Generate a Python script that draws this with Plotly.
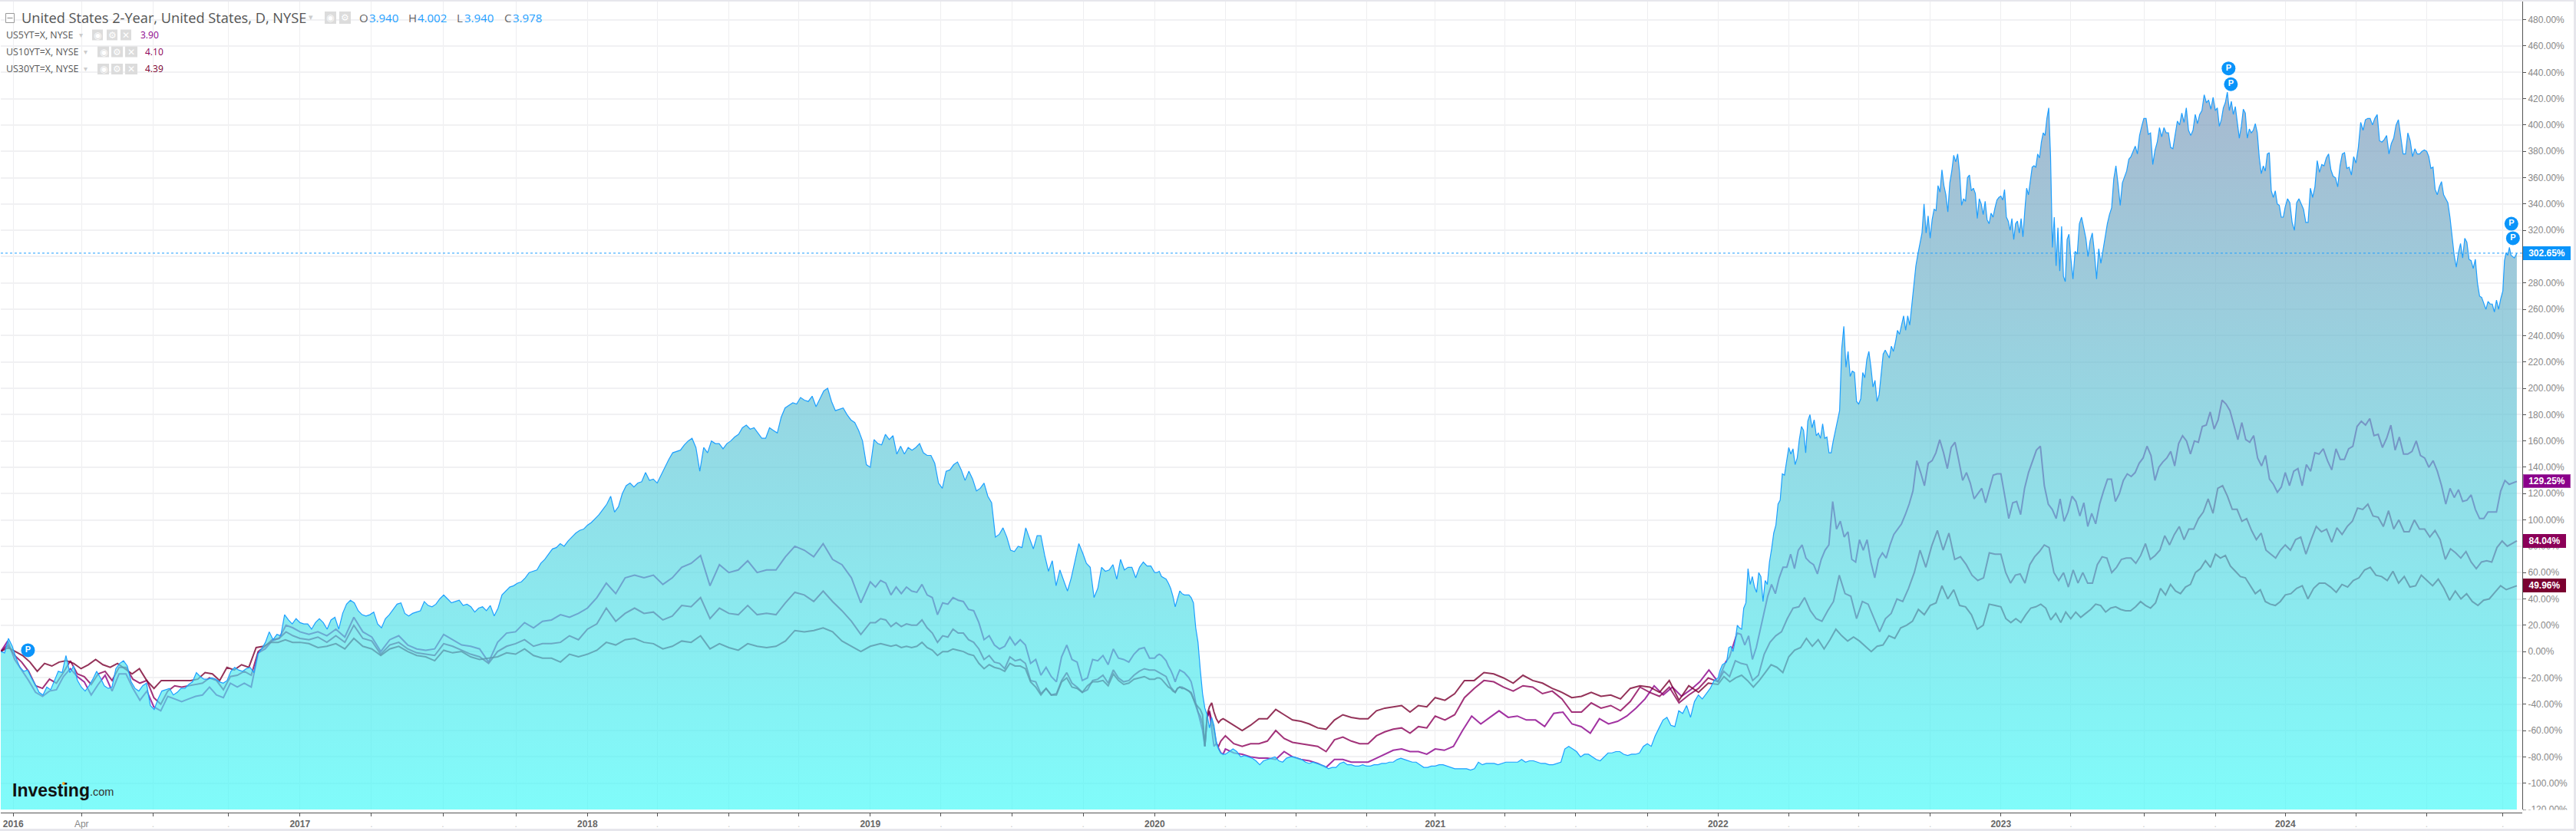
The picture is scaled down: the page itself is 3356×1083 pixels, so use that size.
import pandas as pd
import plotly.graph_objects as go

# Quarter marks of the chart's time axis (first displayed bar of each quarter)
tick_dates = ["2016-01-01","2016-03-29","2016-06-29","2016-10-04","2017-01-04","2017-04-06","2017-07-07","2017-10-09",
              "2018-01-09","2018-04-09","2018-07-10","2018-10-08","2019-01-08","2019-04-09","2019-07-09","2019-10-09",
              "2020-01-09","2020-04-09","2020-07-09","2020-10-08","2021-01-04","2021-04-04","2021-07-04","2021-10-04",
              "2022-01-03","2022-04-04","2022-07-03","2022-10-03","2023-01-02","2023-04-02","2023-07-05","2023-10-05",
              "2024-01-03","2024-04-03","2024-07-03","2024-10-09"]
tick_labels = ["2016","Apr","","","2017","","","","2018","","","","2019","","","","2020","","","","2021","","","",
               "2022","","","","2023","","","","2024","","",""]
y_ticks = [-120,-100,-80,-60,-40,-20,0,20,40,60,80,100,120,140,160,180,200,220,240,260,280,300,320,340,360,380,400,420,440,460,480]
first_date = "2015-12-16"
axis_end = "2024-11-03"
last_date = "2024-10-27"

# US 2-year, % change
y2_2016 = [0,-1,10,4,-5,-12,-15,-14,-20,-25,-31,-33,-27,-29,-22,-15,-16,-3,-16,-11,-22,-27,-30,-26,-21,-15,-20,-26,-28,-27,-13,-9,-7,-11,-23,-28,-30,-26,-24,-41,-44,-36,-30,-29,-28,-33,-31,-28,-28,-25,-23,-16,-19,-21,-21,-20,-21,-23,-24,-22,-15,-12,-14,-15,-13,-12,-16,-2,2,7,15,9,13,12,28,24,21,25]
y2_2017 = [22,21,21,17,22,25,22,17,24,26,17,29,36,39,37,31,28,27,28,30,21,18,25,28,32,36,37,29,27,29,30,31,38,35,34,36,40,43,40,37,38,39,35,36,34,30,33,34,31,35,27,33,43,46,49,50,52,53,56,60,61,62,67,70,74,78,79,82,80,84,87,90,92,93]
y2_2018 = [96,98,101,104,108,112,118,106,110,120,126,128,125,128,129,136,130,131,128,134,140,146,151,152,153,157,160,162,155,137,155,151,160,158,158,154,158,160,163,165,170,172,169,170,166,162,162,170,168,166,178,185,187,189,188,193,191,190,194,186,192,198,200,190,183,184,185,180,176,174,168,160,142]
y2_2019 = [140,161,158,157,165,161,164,150,156,150,155,153,155,158,151,149,149,143,128,124,137,138,142,144,138,130,137,131,122,124,128,118,113,87,89,94,87,77,76,80,79,94,86,78,88,88,73,61,69,50,62,54,46,56,70,82,75,67,64,41,48,64,61,62,66,55,70,62,64,64,56,64,68,65,65]
y2_2020a = [60,60,61,57,56,55,52,48,42,34,40,46,44,43,43,43,41,37,18,7,-14,-32,-43,-48,-58,-50,-56,-68,-74,-77,-78]
y2_2020b = [-78,-76,-74,-76,-80,-79,-80,-81,-83,-86,-83,-82,-81,-80,-83,-84,-81,-80,-80,-81,-82,-84,-85,-84,-85,-86,-87,-89,-88,-88,-85,-84,-86,-86,-87,-87,-86,-87,-87,-86,-86,-85,-85,-84,-84,-82,-81,-82,-83,-84,-84,-86,-88,-88,-87]
y2_2021 = [-87,-86,-86,-87,-88,-89,-89,-89,-89,-90,-89,-84,-86,-85,-85,-85,-86,-85,-84,-84,-84,-84,-82,-84,-83,-83,-84,-85,-85,-86,-86,-85,-84,-74,-72,-74,-76,-80,-78,-78,-80,-82,-83,-80,-77,-77,-76,-76,-78,-79,-78,-78,-77,-72,-70,-72,-64,-58,-52,-50,-56,-57,-45,-47,-41,-50,-38,-33,-36,-32,-28,-22]
y2_2022q1 = [-20,-14,-10,-9,-8,3,4,0,8,20,18,17,33,37,63,51,57,49,45,60,57,38,54,51,68,78,90,96,112,115,135,134,145]
y2_2022q2 = [155,150,154,142,147,161,171,168,151,175,180,170,176,164,166,162,173,162,163,151,151,160,168,176,183,230,247,216,228,209,213,212,190]
y2_2022q3 = [188,192,212,208,222,228,216,201,206,190,195,212,226,229,226,223,232,228,235,244,241,249,255,244,255,248,263,277,293,302,311,318,340,318,331]
y2_2022q4 = [314,328,336,335,354,349,366,354,347,334,356,365,377,372,378,364,339,344,342,360,362,350,352,348,329,344,340,332,342,328,325,333,330,337,343,345]
y2_2023q1 = [346,343,351,330,327,320,329,313,325,327,318,329,315,335,352,347,357,368,369,368,378,375,387,394,392,405,413,376,307,330,293,322,289,323,285,281,313,317]
y2_2023q2 = [299,283,304,302,325,330,322,314,300,312,318,303,283,306,295,305,315,325,332,337,359,369,355,339,356,361,365,374,376,380,384,378,392,399]
y2_2023q3 = [405,405,393,394,370,381,387,398,391,398,394,394,383,382,394,403,400,409,402,413,396,392,396,408,401,408,411,423,417,419,412,421]
y2_2023q4 = [411,413,399,404,413,417,425,411,418,408,414,401,390,399,412,409,390,397,394,396,401,394,375,363,369,365,378,379,350,345,350,340,339,330,330]
y2_2024q1 = [338,344,341,326,320,341,344,340,336,326,326,352,345,353,373,364,370,369,375,378,366,361,360,353,369,378,379,367,368,362,376]
y2_2024q2 = [371,383,402,396,404,405,405,400,405,408,388,387,389,392,378,386,390,400,404,392,378,378,394,388,376,382,378,378,380,381]
y2_2024q3 = [380,376,367,368,351,347,353,357,347,344,341,330,316,301,292,303,310,299,314,311,298,297,291,298,280,270,269,264,260,266,264,264,258,267,260,268]
y2_2024q4 = [274,297,303,301,307,301,300,299,302.65]

# US 5-year, % change
y5_2016 = [0,8,-6,-14,-22,-31,-34,-30,-29,-19,-13,-19,-23,-33,-25,-18,-30,-17,-17,-28,-37,-30,-42,-45,-34,-36,-38,-36,-34,-33,-27,-33,-35,-24,-27,-24,-27,-1,2,8,10,20,18]
y5_2017 = [15,13,15,12,17,11,26,15,11,0,9,12,5,2,1,2,13,9,5,4,2,-8,7,14,15,22,18,23,24,28,26,29]
y5_2018 = [33,41,52,44,56,58,56,58,51,56,64,67,73,50,66,60,62,69,60,62,62,72,80,77,72,82,70,66,56,37]
y5_2019 = [53,49,54,52,43,49,44,49,46,45,51,43,41,28,37,36,41,39,38,32,31,22,9,12,5,2,4,11,5,9,5,-9,-6,-18,-12,-19,-23,-4,5,-6,-8,-22,-20,-6,-7,-3,-10,2,-5,-6,-8,-2,2,3,-5]
y5_2020a = [-5,-3,-2,-3,-5,-7,-11,-14,-18,-23,-18,-14,-15,-16,-18,-20,-23,-30,-39,-46,-53,-60,-72,-50,-46,-60,-72,-70,-74,-77,-78]
y5_2020b = [-74,-77,-78,-80,-81,-81,-82,-76,-80,-82,-83,-85,-88,-82,-82,-84,-84,-84,-81,-78,-75,-74,-76,-76,-78]
y5_2021 = [-74,-75,-72,-60,-49,-55,-50,-45,-50,-49,-52,-52,-57,-47,-46,-55,-57,-62,-51,-55,-53,-49,-43,-36,-26,-33,-27,-34,-29,-23,-14]
y5_2022 = [-23,-15,-8,-4,5,14,13,5,12,-6,3,17,29,42,51,44,56,64,64,74,63,77,81,71,68,66,59,70,77,81,114,93,99,87,91,70,68,85,77,85,68,56,70,75,71,81,89,93,97,104,112,122,145,136,126,143,145,151,161,151,139,155,159,145,130,136,128,116,120,124,113,124,134,135]
y5_2023 = [135,118,101,113,114,104,124,136,144,153,156,126,112,108,101,116,99,106,118,114,103,113,95,105,97,112,122,131,131,114,120,130,135,133,136,143,147,156,149,130,140,144,147,152,141,158,164,160,150,160,159,171,172,182,169,176,191,188,183,172,161,174,161,159,164,147,141,149,131,127,121,125]
y5_2024 = [136,126,137,139,126,142,137,151,150,154,145,138,154,146,146,154,156,171,175,172,177,164,165,155,162,172,153,163,150,150,152,160,149,147,140,145,137,126,112,124,117,123,114,115,119,108,101,101,106,106,106,122,130,127,129.25]

# US 10-year, % change
y10_2016 = [0,5,-3,-8,-15,-26,-28,-21,-24,-16,-7,-17,-19,-25,-17,-15,-22,-12,-12,-21,-24,-22,-35,-40,-30,-26,-27,-26,-25,-24,-20,-22,-29,-19,-18,-15,-18,0,4,9,10,15,12]
y10_2017 = [10,9,11,7,12,7,20,10,8,-2,5,7,2,-1,-2,-3,6,4,1,-2,-4,-9,0,4,6,9,4,6,6,7,12,9]
y10_2018 = [17,21,33,23,29,33,29,30,24,27,35,34,41,25,33,29,28,35,28,29,28,37,45,43,38,46,38,31,23,13]
y10_2019 = [22,22,25,24,19,22,19,21,20,20,24,18,14,7,12,11,17,14,14,9,7,2,-6,-3,-8,-9,-13,-4,-7,-6,-9,-22,-23,-32,-28,-33,-32,-22,-16,-24,-27,-31,-29,-22,-21,-18,-24,-14,-20,-23,-22,-18,-15,-13,-14]
y10_2020a = [-14,-15,-16,-17,-18,-19,-23,-27,-29,-31,-28,-27,-27,-28,-29,-30,-31,-36,-41,-46,-49,-55,-72,-50,-45,-52,-60,-70,-72,-68,-66]
y10_2020b = [-64,-70,-72,-70,-70,-68,-60,-66,-69,-70,-71,-72,-76,-67,-65,-68,-70,-70,-64,-61,-59,-58,-62,-57,-58]
y10_2021 = [-49,-52,-48,-35,-28,-22,-23,-27,-30,-26,-27,-32,-30,-36,-46,-46,-39,-43,-41,-45,-38,-27,-31,-34,-27,-39,-33,-28,-20]
y10_2022 = [-23,-15,-19,-7,-9,-10,-22,-18,-2,7,12,15,25,33,34,41,31,25,23,31,38,58,44,42,25,38,36,25,15,25,29,40,38,48,60,77,64,80,92,77,90,70,72,66,58,54,56,75,74]
y10_2023 = [74,60,52,58,59,52,66,72,76,81,79,60,54,60,49,62,52,60,52,52,66,72,71,60,64,70,71,71,67,73,82,70,73,77,88,81,89,95,85,93,93,101,106,116,105,124,126,118,108,108,99,101,92,85,90,77,74,71,77]
y10_2024 = [81,77,85,87,74,85,95,91,93,83,94,89,95,99,109,108,112,103,102,95,107,93,100,91,91,100,93,93,87,92,85,70,78,75,71,76,68,63,68,69,68,79,84,80,84.04]

# US 30-year, % change
y30_2016 = [0,3,0,-3,-8,-15,-9,-11,-8,-7,-9,-13,-10,-6,-10,-12,-9,-13,-17,-13,-22,-28,-22,-22,-22,-22,-22,-21,-16,-17,-22,-12,-14,-10,-12,3,4,7,7,9,7]
y30_2017 = [7,6,3,4,6,2,10,4,2,-3,2,4,0,-3,-4,-7,1,-1,0,-4,-6,-5,-4,-1,-2,2,-3,-5,-5,-8,-2,-4]
y30_2018 = [-2,1,7,5,9,10,7,6,2,4,8,7,12,2,6,3,1,6,4,3,4,8,16,15,16,18,15,8,4,0]
y30_2019 = [4,5,6,5,4,5,3,4,3,4,7,3,1,-3,0,0,2,1,0,-2,-3,-9,-13,-10,-12,-13,-15,-9,-11,-11,-13,-23,-27,-33,-28,-33,-33,-23,-20,-27,-28,-31,-26,-23,-23,-22,-26,-17,-22,-25,-24,-21,-20,-19,-21]
y30_2020a = [-21,-20,-20,-21,-23,-25,-27,-28,-30,-31,-28,-27,-28,-28,-29,-30,-32,-36,-40,-42,-44,-48,-72,-48,-42,-39,-46,-51,-54,-52,-51]
y30_2020b = [-52,-56,-60,-56,-51,-51,-44,-48,-52,-53,-55,-58,-59,-52,-48,-50,-51,-51,-45,-43,-42,-41,-46,-41,-42]
y30_2021 = [-35,-37,-32,-22,-22,-16,-17,-20,-24,-18,-22,-24,-28,-31,-35,-34,-31,-34,-33,-36,-28,-26,-27,-31,-22,-37,-26,-31,-24]
y30_2022 = [-25,-19,-23,-20,-18,-22,-27,-22,-16,-10,-12,-16,-4,1,3,10,4,9,2,9,17,12,8,11,8,4,0,4,5,12,10,18,20,23,32,28,35,37,50,40,47,35,34,28,17,20,36,35]
y30_2023 = [34,25,22,25,22,28,33,34,36,33,24,29,22,30,25,30,26,29,32,36,35,30,33,34,32,31,31,34,38,35,33,37,48,43,51,46,44,49,51,60,63,69,64,74,71,73,65,61,57,56,50,44,47,38,36,35,38]
y30_2024 = [43,44,48,50,40,48,52,52,49,45,51,49,54,56,62,64,58,57,54,61,52,57,49,50,58,54,50,55,48,39,46,40,44,38,35,39,40,45,50,47,49.96]

# "P" event flags
flag_dates = ["2016-01-20","2023-10-22","2023-10-25","2024-10-20","2024-10-22"]
flag_values = [1,443,431,325,314]

title_text = "United States 2-Year, United States, D, NYSE"
ohlc_open, ohlc_high, ohlc_low, ohlc_close = "3.940", "4.002", "3.940", "3.978"
rows = [("US5YT=X, NYSE", "3.90"), ("US10YT=X, NYSE", "4.10"), ("US30YT=X, NYSE", "4.39")]

W, H = 3356, 1083
L, R, T, B = 1, 70, 2, 24
PW, PH = W - L - R, H - T - B
def px(x): return (x - L) / PW
def py(y): return 1 - (y - T) / PH

def seg(start, end, vals):
    return list(pd.date_range(start, end, periods=len(vals) + 1)[:-1])

def build(parts):
    xs, ys = [], []
    for s, e, v in parts:
        xs += seg(s, e, v); ys += v
    xs[-1] = pd.Timestamp(last_date)
    return xs, ys

td = tick_dates
x2, y2 = build([(first_date, td[4], y2_2016), (td[4], td[8], y2_2017), (td[8], td[12], y2_2018), (td[12], td[16], y2_2019),
                (td[16], td[17], y2_2020a), (td[17], td[20], y2_2020b), (td[20], td[24], y2_2021),
                (td[24], td[25], y2_2022q1), (td[25], td[26], y2_2022q2), (td[26], td[27], y2_2022q3), (td[27], td[28], y2_2022q4),
                (td[28], td[29], y2_2023q1), (td[29], td[30], y2_2023q2), (td[30], td[31], y2_2023q3), (td[31], td[32], y2_2023q4),
                (td[32], td[33], y2_2024q1), (td[33], td[34], y2_2024q2), (td[34], td[35], y2_2024q3), (td[35], "2024-10-28", y2_2024q4)])
def others(a):
    return build([(first_date, td[4], a[0]), (td[4], td[8], a[1]), (td[8], td[12], a[2]), (td[12], td[16], a[3]),
                  (td[16], td[17], a[4]), (td[17], td[20], a[5]), (td[20], td[24], a[6]), (td[24], td[28], a[7]),
                  (td[28], td[32], a[8]), (td[32], "2024-10-28", a[9])])
x5, y5 = others([y5_2016, y5_2017, y5_2018, y5_2019, y5_2020a, y5_2020b, y5_2021, y5_2022, y5_2023, y5_2024])
x10, y10 = others([y10_2016, y10_2017, y10_2018, y10_2019, y10_2020a, y10_2020b, y10_2021, y10_2022, y10_2023, y10_2024])
x30, y30 = others([y30_2016, y30_2017, y30_2018, y30_2019, y30_2020a, y30_2020b, y30_2021, y30_2022, y30_2023, y30_2024])

C_BLUE, C5, C10, C30 = "#1e9fff", "#8b008b", "#8b0058", "#7a0030"

fig = go.Figure()
for xs, ys, c in [(x5, y5, C5), (x10, y10, C10), (x30, y30, C30)]:
    fig.add_trace(go.Scatter(x=xs, y=ys, mode="lines", line=dict(color=c, width=2), opacity=0.8, hoverinfo="skip"))
fig.add_trace(go.Scatter(x=x2, y=[y_ticks[0]] * len(x2), mode="lines", line=dict(width=0), hoverinfo="skip"))
fig.add_trace(go.Scatter(x=x2, y=y2, mode="lines", line=dict(color=C_BLUE, width=1.2), fill="tonexty",
                         fillgradient=dict(type="vertical", start=-120, stop=420,
                                           colorscale=[[0, "rgba(65,250,248,0.67)"], [1, "rgba(124,152,185,0.67)"]])))
fig.add_trace(go.Scatter(x=flag_dates, y=flag_values, mode="markers+text", text=["<b>P</b>"] * len(flag_dates),
                         textposition="middle center", textfont=dict(color="white", size=11, family="Liberation Sans"),
                         marker=dict(size=18, color="#0a94fa"), hoverinfo="skip"))

def ticktext(lbl):
    if lbl == "": return '<span style="color:#ccc">.</span>'
    if lbl == "Apr": return '<span style="color:#888">Apr</span>'
    return f"<b>{lbl}</b>"

fig.update_layout(
    width=W, height=H, margin=dict(l=L, r=R, t=T, b=B), showlegend=False,
    paper_bgcolor="white", plot_bgcolor="white", hovermode=False,
    font=dict(family="Liberation Sans, Arial", size=12, color="#888"),
    xaxis=dict(type="date", range=[first_date, axis_end], anchor="free", position=0, tickmode="array",
               tickvals=tick_dates, ticktext=[ticktext(t) for t in tick_labels], ticks="outside", ticklen=4, tickcolor="#555",
               tickangle=0, tickfont=dict(color="#666", size=12), showgrid=True, gridcolor="#eeeef0", gridwidth=1,
               showline=True, linecolor="#555", linewidth=1, zeroline=False),
    yaxis=dict(range=[-120, 493.8], domain=[4 / PH, 1], side="right", tickmode="array", tickvals=y_ticks,
               ticktext=[f"{v:.2f}%" for v in y_ticks], ticks="outside", ticklen=4, tickcolor="#555",
               tickfont=dict(color="#888", size=12), showgrid=True, gridcolor="#f1f1f3", gridwidth=2,
               showline=True, linecolor="#555", linewidth=1, zeroline=False),
)

shapes = []
def prect(x0, y0, x1, y1, fill, line=None, layer="above"):
    shapes.append(dict(type="rect", xref="paper", yref="paper", x0=px(x0), x1=px(x1), y0=py(y0), y1=py(y1),
                       fillcolor=fill, line=dict(width=1 if line else 0, color=line or fill), layer=layer))
shapes.append(dict(type="line", xref="paper", yref="y", x0=0, x1=1, y0=y2[-1], y1=y2[-1],
                   line=dict(color=C_BLUE, width=1, dash="dot"), layer="above"))
prect(3287.5, 1055.5, 3352, 1080, "white")
prect(3353, 0, 3356, 1083, "#e6e6ec")
prect(0, 0, 3356, 2, "#e6e6ec")
prect(0, 1080, 3356, 1083, "#e6e6ec")
prect(7.5, 17.5, 18.5, 29.5, "white", "#999")
shapes.append(dict(type="line", xref="paper", yref="paper", x0=px(9.5), x1=px(16.5), y0=py(23.5), y1=py(23.5), line=dict(color="#888", width=1)))
shapes.append(dict(type="circle", xref="paper", yref="paper", x0=px(81), x1=px(85), y0=py(1019), y1=py(1023), fillcolor="#f5a623", line=dict(width=0)))

ann = []
def text(x, y, s, size=12, color="#666", family="Open Sans", anchor="left"):
    ann.append(dict(xref="paper", yref="paper", x=px(x), y=py(y), text=s, showarrow=False, xanchor=anchor, yanchor="middle",
                    font=dict(size=size, color=color, family=family), borderpad=0))
def icon(x0, x1, y0, y1, glyph):
    prect(x0, y0, x1, y1, "#dcdcdc")
    text((x0 + x1) / 2, (y0 + y1) / 2, glyph, size=12, color="white", family="DejaVu Sans", anchor="center")

text(27, 23, title_text, size=18.2, color="#555")
text(405, 23, "▾", size=11, color="#ccc", family="DejaVu Sans", anchor="center")
icon(423, 438, 15, 31, "◉"); icon(442, 457, 15, 31, "⚙")
for lx, lbl, vx, val in [(467, "O", 480, ohlc_open), (531, "H", 543, ohlc_high), (594, "L", 604, ohlc_low), (656, "C", 667, ohlc_close)]:
    text(lx, 23, lbl, size=15, color="#666"); text(vx, 23, val, size=15, color=C_BLUE)
row_y = [45.5, 67.5, 90]
row_ic = [[(120, 134), (139, 153), (157, 171)], [(127, 142), (145, 160), (163, 179)], [(127, 142), (145, 160), (163, 179)]]
row_arrow = [105, 111, 111]; row_vx = [182, 188, 188]; row_col = [C5, C10, C30]
for (name, val), ry, ic, ax, vx, col in zip(rows, row_y, row_ic, row_arrow, row_vx, row_col):
    text(7, ry, name, size=12.4, color="#555")
    text(ax, ry, "▾", size=10, color="#ccc", family="DejaVu Sans", anchor="center")
    for (a, b), g in zip(ic, ["◉", "⚙", "✕"]):
        icon(a, b, ry - 7, ry + 7, g)
    text(vx, ry, val, size=12, color=col)
text(15, 1030, "<b>Investing</b>", size=23, color="#111", family="Liberation Sans")
text(116, 1032, ".com", size=14.5, color="#333", family="Liberation Sans")

for val, col, border, w in [(y2[-1], "#0a94fa", "#0a94fa", 58), (y5[-1], C5, "#a848a8", 58), (y10[-1], C10, C10, 52), (y30[-1], C30, C30, 52)]:
    ann.append(dict(xref="paper", yref="y", x=px(3287), y=val, text=f"<b>{val:.2f}%</b>", showarrow=False, xanchor="left", yanchor="middle",
                    font=dict(size=12, color="white", family="Liberation Sans"), bgcolor=col, bordercolor=border, borderwidth=1, borderpad=1,
                    width=w, height=14, align="center"))

fig.update_layout(shapes=shapes, annotations=ann)
fig.write_html("out.html", config={"displayModeBar": False},
               post_script="document.body.style.margin='0';document.body.style.overflow='hidden';")
